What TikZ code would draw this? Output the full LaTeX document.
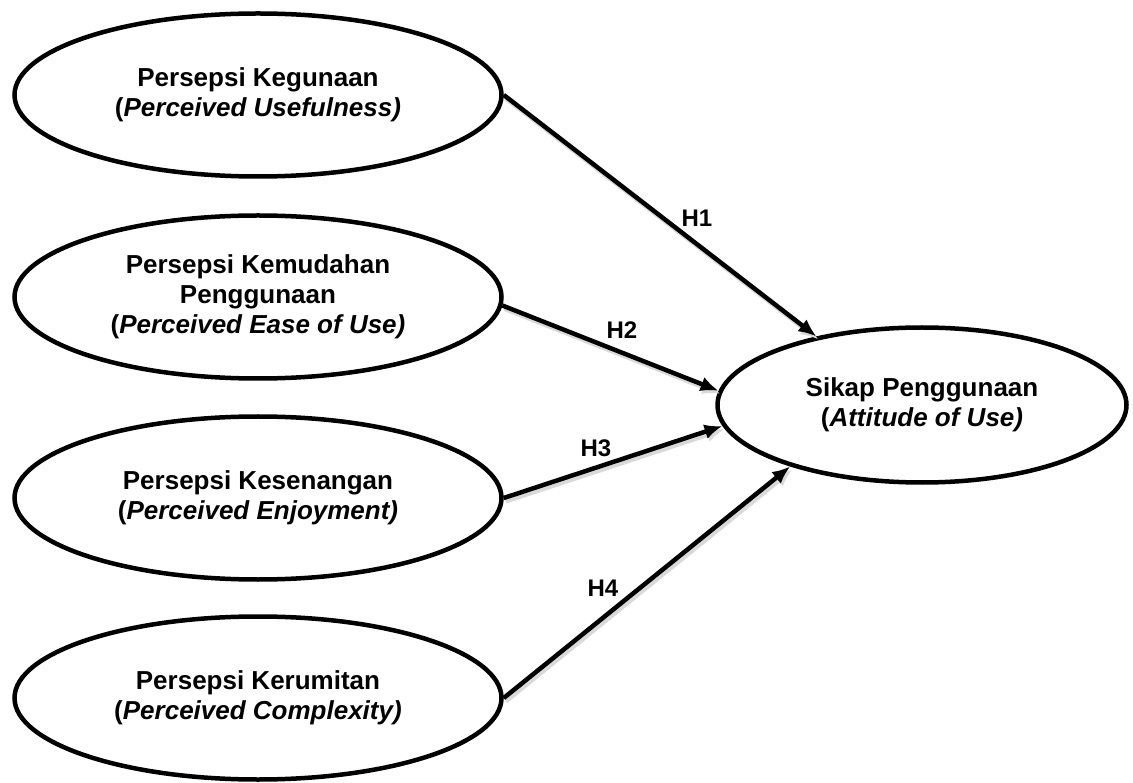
\documentclass[tikz,border=0pt]{standalone}
\usepackage{fontspec}
\setmainfont{Liberation Sans}
\usetikzlibrary{arrows.meta,shapes.geometric}

\tikzset{
  konstruk/.style={ellipse,draw,line width=4.5pt,inner sep=0pt,align=center,
    minimum width=487pt,minimum height=163pt,
    font=\bfseries\fontsize{26}{30}\selectfont},
  hubungan/.style={-{Latex[length=18pt,width=15pt]},line width=4.5pt,
    preaction={draw=black!15,line width=5pt,transform canvas={shift={(2pt,-3pt)}}}},
  hipotesis/.style={font=\bfseries\fontsize{24}{28}\selectfont}
}

\begin{document}
\begin{tikzpicture}[x=1pt,y=-1pt]

\useasboundingbox (0,0) rectangle (1133,783);

\node[konstruk] (guna) at (258,95)
	{Persepsi Kegunaan\\(\textit{Perceived Usefulness)}};
\node[konstruk] (mudah) at (258,297)
	{Persepsi Kemudahan\\Penggunaan\\(\textit{Perceived Ease of Use)}};
\node[konstruk] (senang) at (258,498)
	{Persepsi Kesenangan\\(\textit{Perceived Enjoyment)}};
\node[konstruk] (rumit) at (258,698)
	{Persepsi Kerumitan\\(\textit{Perceived Complexity)}};

\node[konstruk,minimum width=409pt,minimum height=155pt] (sikap) at (922,405)
	{Sikap Penggunaan\\(\textit{Attitude of Use)}};

\draw[hubungan] (guna.east) -- (sikap.147);
\draw[hubungan] (mudah.358) -- (sikap.176);
\draw[hubungan] (senang.east) -- (sikap.186);
\draw[hubungan] (rumit.east) -- (sikap.205);

\node[hipotesis] (h1) at (697,218) {H1};
\node[hipotesis] (h2) at (622,330) {H2};
\node[hipotesis] (h3) at (596,448) {H3};
\node[hipotesis] (h4) at (603,588) {H4};

\end{tikzpicture}
\end{document}
